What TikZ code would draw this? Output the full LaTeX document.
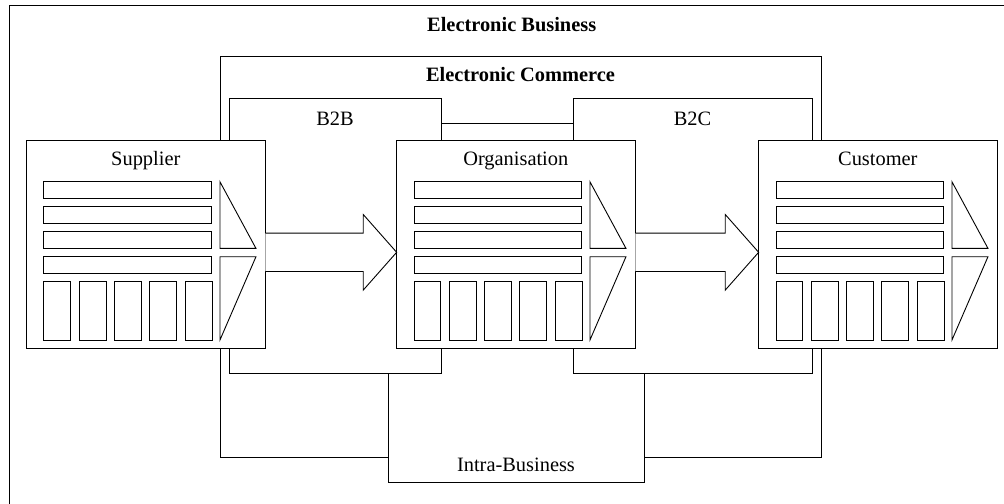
\documentclass[tikz,border=0pt]{standalone}
\usepackage{fontspec}
\setmainfont{Liberation Serif}
\usetikzlibrary{calc}
\tikzset{
  ln/.style={draw=black, line width=0.9bp},
  entity/.style={ln, fill=white, minimum width=238.3bp, minimum height=208.3bp, inner sep=0pt, outer sep=0pt},
  part/.style={ln, fill=white},
  txt/.style={font=\fontsize{20.4bp}{24bp}\selectfont, inner sep=0pt, anchor=base},
  ttl/.style={txt, font=\fontsize{20.4bp}{24bp}\selectfont\bfseries},
  blockarrow/.style={ln, fill=white, line join=miter},
}
\newcommand\entitydetail[1]{%
  \begin{scope}[shift={(#1.north west)}]
    \foreach \k in {0,...,3} \draw[part] (17.3,{41.7+25*\k}) rectangle (185,{58.4+25*\k});
    \foreach \k in {0,...,4} \draw[part] ({17.3+35.33*\k},141.7) rectangle ({44+35.33*\k},200);
    \draw[part] (193.3,41.7) -- (193.3,108.3) -- (229.3,108.3) -- cycle;
    \draw[part] (193.3,116.7) -- (229.3,116.7) -- (193.3,200) -- cycle;
  \end{scope}}
\newcommand\blockarr[2]{%
  \coordinate (#2-tip) at ($(#2.west)+(0,8.1)$);
  \coordinate (#1-start) at ($(#1.east |- #2-tip)+(0.45,0)$);
  \draw[blockarrow] ($(#1-start)+(0,-19.2)$) -- ($(#2-tip)+(-33.4,-19.2)$) -- ($(#2-tip)+(-33.4,-37.8)$) -- (#2-tip) -- ($(#2-tip)+(-33.4,37.8)$) -- ($(#2-tip)+(-33.4,19.2)$) -- ($(#1-start)+(0,19.2)$);}
\begin{document}
\begin{tikzpicture}[x=1bp, y=-1bp]
  \useasboundingbox (0,0) rectangle (1004,504);
  \clip (0,0) rectangle (1004,504);
  \fill[white] (0,0) rectangle (1004,504);
  % Electronic Business
  \draw[ln, line width=1bp] (9,6) rectangle (1016,514);
  \node[ttl] (ebt) at (511.7,31.8) {Electronic Business};
  % Electronic Commerce
  \draw[ln, fill=white] (220,56) rectangle (821,457);
  \node[ttl] (ect) at (520.5,81.8) {Electronic Commerce};
  % Intra-Business
  \fill[white] (388,373) rectangle (644,482);
  \draw[ln] (388,373) -- (388,482) -- (644,482) -- (644,373);
  \node[txt] (ibt) at (516,471.8) {Intra-Business};
  % B2B / B2C
  \draw[ln, fill=white] (229,98) rectangle (441,373);
  \draw[ln, fill=white] (573,98) rectangle (812,373);
  \draw[ln] (441,123.3) -- (573,123.3);
  \node[txt] (b2bt) at (335,125.2) {B2B};
  \node[txt] (b2ct) at (692.5,125.2) {B2C};
  % entities
  \node[entity] (sup) at (145.8,244.2) {};
  \node[entity] (org) at (515.8,244.2) {};
  \node[entity] (cus) at (877.8,244.2) {};
  \node[txt] (supt) at ($(sup.north)+(0,25.3)$) {Supplier};
  \node[txt] (orgt) at ($(org.north)+(0,25.3)$) {Organisation};
  \node[txt] (cust) at ($(cus.north)+(0,25.3)$) {Customer};
  \entitydetail{sup}
  \entitydetail{org}
  \entitydetail{cus}
  \blockarr{sup}{org}
  \blockarr{org}{cus}
\end{tikzpicture}
\end{document}
